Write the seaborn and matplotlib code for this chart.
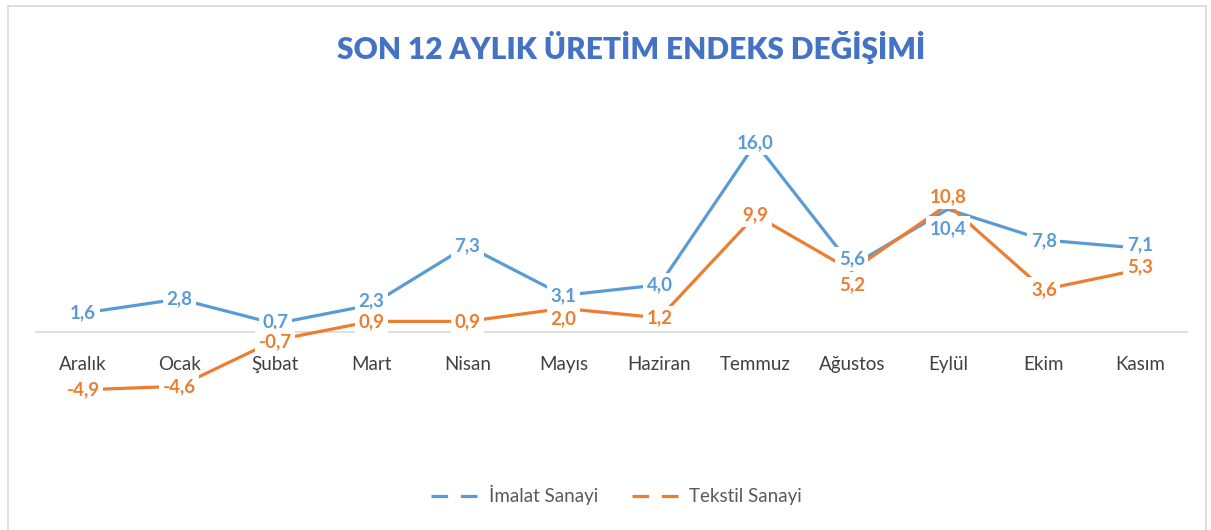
import seaborn as sns
import matplotlib.pyplot as plt
import pandas as pd
from matplotlib.lines import Line2D
from matplotlib.patches import Rectangle

months = ["Aralık", "Ocak", "Şubat", "Mart", "Nisan", "Mayıs",
          "Haziran", "Temmuz", "Ağustos", "Eylül", "Ekim", "Kasım"]
imalat = [1.6, 2.8, 0.7, 2.3, 7.3, 3.1, 4.0, 16.0, 5.6, 10.4, 7.8, 7.1]
tekstil = [-4.9, -4.6, -0.7, 0.9, 0.9, 2.0, 1.2, 9.9, 5.2, 10.8, 3.6, 5.3]
series_names = ["İmalat Sanayi", "Tekstil Sanayi"]
title = "SON 12 AYLIK ÜRETİM ENDEKS DEĞİŞİMİ"

colors = {"İmalat Sanayi": "#5B9BD5", "Tekstil Sanayi": "#ED7D31"}
# manual label shifts (pixels, down is positive) where labels would collide
shift = {("İmalat Sanayi", 8): -7, ("Tekstil Sanayi", 8): 14,
         ("İmalat Sanayi", 9): 19, ("Tekstil Sanayi", 9): -8,
         ("İmalat Sanayi", 2): -2, ("Tekstil Sanayi", 2): 1,
         ("İmalat Sanayi", 3): -4, ("Tekstil Sanayi", 5): 10,
         ("İmalat Sanayi", 10): 1, ("İmalat Sanayi", 11): -3,
         ("Tekstil Sanayi", 11): -3}

df = pd.DataFrame({
    "x": list(range(len(months))) * 2,
    "deger": imalat + tekstil,
    "seri": [series_names[0]] * len(months) + [series_names[1]] * len(months),
})

sns.set_style("white")
plt.rcParams["font.family"] = ["Lato", "DejaVu Sans"]

fig = plt.figure(figsize=(12.11, 5.30), dpi=100)
W, H = 1211, 530
ax = fig.add_axes([35 / W, 1 - 440 / H, (1188 - 35) / W, 340 / H])

sns.lineplot(data=df, x="x", y="deger", hue="seri", palette=colors,
             sort=False, legend=False, linewidth=2.3, ax=ax, zorder=2)

ax.set_xlim(-0.5, len(months) - 0.5)
ax.set_ylim(-(440 - 332) / 11.8, (332 - 100) / 11.8)
ax.axhline(0, color="#d9d9d9", linewidth=1.2, zorder=1)
for s in ax.spines.values():
    s.set_visible(False)
ax.spines["bottom"].set_position(("data", 0))
ax.set_yticks([])
ax.set_xticks(range(len(months)))
ax.set_xticklabels(months, fontsize=13.5, color="#404040")
ax.tick_params(axis="x", length=0, pad=17)
ax.set_xlabel("")
ax.set_ylabel("")

for name, vals in zip(series_names, [imalat, tekstil]):
    for i, v in enumerate(vals):
        ax.annotate(f"{v:.1f}".replace(".", ","), (i, v),
                    xytext=(0, -shift.get((name, i), 0) * 0.72),
                    textcoords="offset points", ha="center", va="center",
                    fontsize=13.5, fontweight="bold", color=colors[name],
                    bbox=dict(fc="white", ec="none", pad=2.5), zorder=3)

fig.text(0.521, 1 - 48 / H, title, ha="center", va="center",
         fontsize=21.5, fontweight="heavy", color="#4472C4")

handles = [Line2D([0], [0], color=colors[n], linewidth=2.3, dashes=(5.2, 4))
           for n in series_names]
fig.legend(handles, series_names, loc="center", bbox_to_anchor=(0.509, 1 - 495 / H),
           ncol=2, frameon=False, fontsize=13.5, labelcolor="#595959",
           handlelength=2.9, handletextpad=0.15, columnspacing=1.8)

fig.patches.append(Rectangle((8 / W, -0.02), (1206 - 8) / W, 1.02 - 6 / H,
                             transform=fig.transFigure, fill=False,
                             ec="#d9d9d9", lw=1.2))

fig.savefig("out.png", dpi=100, facecolor="white")
